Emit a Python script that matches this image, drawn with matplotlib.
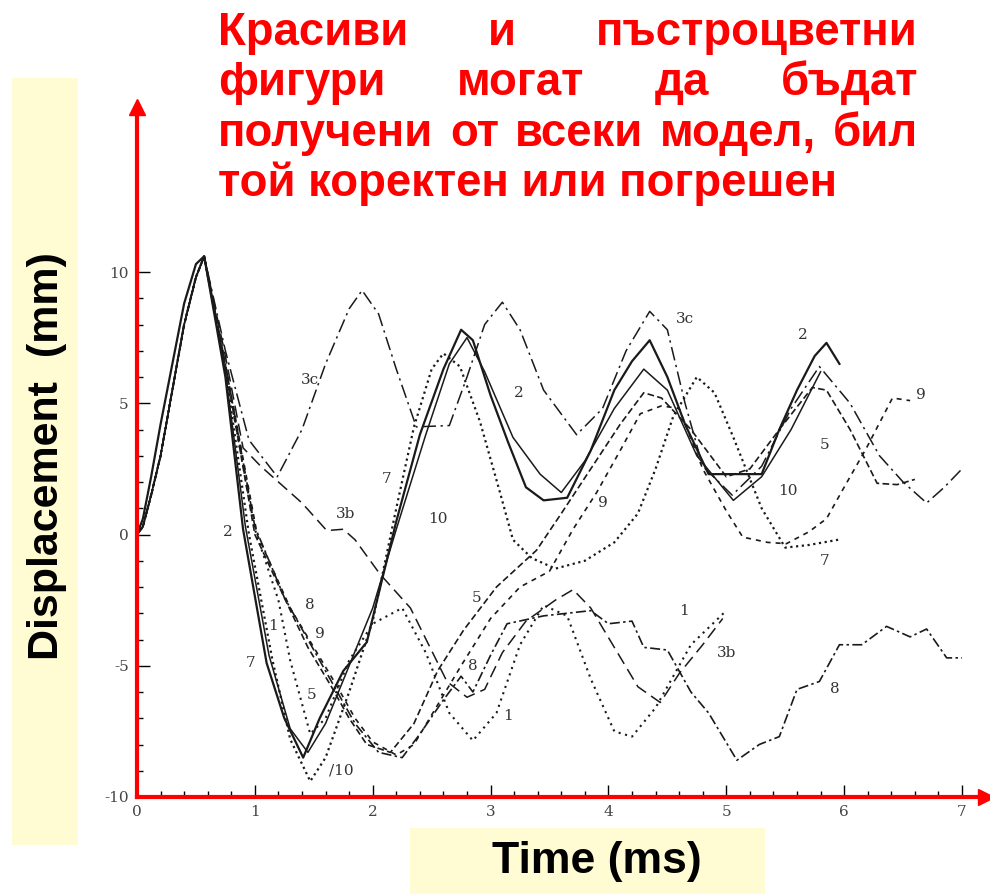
import matplotlib
matplotlib.use("Agg")
import matplotlib.pyplot as plt
from matplotlib.patches import Rectangle
from matplotlib.ticker import FixedLocator

W, H = 990, 894

# common rise of all traces up to the first peak
RISE_T = [0.0, 0.05, 0.12, 0.2, 0.3, 0.4, 0.5, 0.57]
RISE_D = [0.0, 0.3, 1.5, 3.0, 5.5, 8.0, 9.8, 10.6]
RISE_D_ALT = [0.0, 0.6, 2.2, 4.2, 6.5, 8.8, 10.3, 10.6]

# trace 1 (dotted)
t1 = [0.75, 1.0, 1.2, 1.3, 1.47, 1.6, 1.8, 2.0, 2.25, 2.45, 2.65, 2.85, 3.05, 3.25, 3.45,
      3.65, 3.85, 4.05, 4.2, 4.4, 4.7, 5.0]
d1 = [6.3, 0.2, -2.5, -4.8, -7.6, -7.0, -4.8, -3.4, -2.8, -4.5, -6.8, -7.85, -6.8, -4.2, -2.7,
      -3.1, -5.5, -7.5, -7.7, -6.6, -4.2, -2.9]

# trace 2 (solid, stepped)
t2 = [0.75, 0.9, 1.1, 1.25, 1.41, 1.55, 1.75, 1.95, 2.2, 2.4, 2.6, 2.75, 2.85, 3.0, 3.15, 3.3,
      3.45, 3.65, 3.85, 4.05, 4.2, 4.35, 4.5, 4.65, 4.85, 5.3, 5.45, 5.6, 5.75, 5.85, 5.96]
d2 = [6.0, 0.2, -4.9, -7.0, -8.5, -7.0, -5.2, -4.1, 0.5, 3.8, 6.3, 7.8, 7.4, 5.3, 3.5, 1.8,
      1.3, 1.4, 3.2, 5.5, 6.6, 7.4, 6.0, 4.2, 2.3, 2.3, 4.0, 5.5, 6.8, 7.3, 6.5]

# trace 10 (solid)
t10 = [0.75, 0.92, 1.12, 1.3, 1.45, 1.6, 1.8, 2.0, 2.2, 2.45, 2.65, 2.8, 2.95, 3.19, 3.42,
       3.6, 3.8, 4.05, 4.3, 4.5, 4.75, 5.06, 5.3, 5.55, 5.8]
d10 = [6.2, 0.3, -4.6, -7.4, -8.3, -7.2, -5.0, -2.8, 0.2, 3.8, 6.5, 7.5, 6.2, 3.7, 2.3,
       1.6, 2.8, 4.8, 6.3, 5.5, 3.0, 1.3, 2.2, 4.0, 6.2]

# trace 7 (dotted)
t7 = [0.75, 0.95, 1.15, 1.3, 1.47, 1.6, 1.8, 2.0, 2.2, 2.35, 2.5, 2.6, 2.74, 2.91, 3.08,
      3.19, 3.35, 3.55, 3.8, 4.05, 4.25, 4.4, 4.55, 4.75, 4.9, 5.06, 5.3, 5.5, 5.7, 5.95]
d7 = [6.3, 0.0, -4.8, -7.8, -9.4, -8.5, -6.0, -3.3, 1.0, 4.1, 6.3, 6.9, 6.4, 4.3, 1.6,
      -0.2, -0.9, -1.3, -1.0, -0.3, 0.8, 2.5, 4.5, 6.0, 5.4, 3.7, 1.0, -0.5, -0.4, -0.2]

# trace 5 (dashed)
t5 = [0.75, 1.0, 1.27, 1.45, 1.65, 1.8, 1.95, 2.15, 2.35, 2.55, 2.77, 3.05, 3.39, 3.6, 3.85,
      4.1, 4.3, 4.45, 4.7, 5.0, 5.2, 5.45, 5.73, 5.85, 6.05, 6.28, 6.45, 6.6]
d5 = [6.4, 0.0, -2.6, -4.3, -5.8, -7.0, -8.0, -8.3, -7.2, -5.2, -3.65, -2.0, -0.6, 0.8, 2.5,
      4.2, 5.4, 5.2, 4.0, 2.2, 2.5, 4.0, 5.6, 5.5, 4.0, 1.95, 1.9, 2.1]

# trace 8 (dash-dot)
t8 = [0.75, 1.0, 1.25, 1.45, 1.65, 1.85, 2.05, 2.25, 2.4, 2.6, 2.75, 2.85, 3.0, 3.14, 3.45,
      3.65, 3.85, 4.0, 4.2, 4.3, 4.5, 4.6, 4.7, 4.85, 5.09, 5.28, 5.45, 5.6, 5.79, 5.96,
      6.15, 6.36, 6.56, 6.7, 6.87, 7.0]
d8 = [6.5, 0.3, -2.4, -4.0, -5.6, -7.2, -8.3, -8.5, -7.6, -6.3, -5.4, -6.0, -4.6, -3.4, -3.1,
      -3.0, -2.9, -3.4, -3.3, -4.3, -4.4, -5.2, -6.0, -6.8, -8.6, -8.0, -7.7, -5.9, -5.6, -4.2,
      -4.2, -3.5, -3.9, -3.6, -4.7, -4.7]

# trace 9 (short dashes)
t9 = [0.75, 1.02, 1.3, 1.5, 1.7, 1.85, 2.0, 2.2, 2.35, 2.55, 2.75, 3.0, 3.25, 3.5, 3.7,
      3.9, 4.1, 4.27, 4.45, 4.6, 4.8, 5.0, 5.14, 5.35, 5.51, 5.7, 5.85, 6.0, 6.19, 6.41, 6.56]
d9 = [6.5, 0.0, -2.8, -4.3, -5.8, -7.0, -7.9, -8.4, -8.0, -6.5, -5.0, -3.2, -2.0, -1.4, 0.2,
      1.6, 3.2, 4.6, 4.9, 4.8, 2.5, 0.9, -0.1, -0.3, -0.35, 0.1, 0.6, 1.8, 3.3, 5.2, 5.1]

# trace 3b (long dashes)
t3b = [0.75, 0.9, 1.05, 1.2, 1.4, 1.61, 1.75, 1.85, 2.06, 2.32, 2.63, 2.8, 2.95, 3.1, 3.3,
       3.55, 3.7, 3.85, 4.05, 4.25, 4.44, 4.6, 4.8, 4.97]
d3b = [6.8, 3.3, 2.6, 2.0, 1.2, 0.15, 0.2, -0.2, -1.5, -2.8, -5.6, -6.2, -5.9, -4.5, -3.3,
       -2.5, -2.1, -2.8, -4.3, -5.8, -6.4, -5.3, -4.2, -3.2]

# trace 3c (long dash-dot)
t3c = [0.75, 0.95, 1.19, 1.4, 1.6, 1.8, 1.91, 2.05, 2.2, 2.37, 2.65, 2.8, 2.95, 3.1, 3.25,
       3.45, 3.73, 3.95, 4.15, 4.35, 4.5, 4.65, 4.8, 5.05, 5.3, 5.55, 5.79, 6.05, 6.3, 6.5,
       6.7, 6.85, 7.0]
d3c = [7.0, 3.6, 2.2, 4.0, 6.5, 8.6, 9.3, 8.4, 6.3, 4.1, 4.15, 6.0, 8.0, 8.85, 7.8,
       5.5, 3.8, 4.8, 7.0, 8.5, 7.8, 5.0, 2.6, 1.5, 2.6, 4.8, 6.4, 5.0, 3.0, 2.0,
       1.2, 1.8, 2.5]

# curve labels
lab_text = ["3c", "3c", "3b", "3b", "2", "2", "2", "7", "7", "7", "10", "10", "/10",
            "1", "1", "1", "8", "8", "8", "9", "9", "9", "5", "5", "5"]
lab_t = [1.47, 4.65, 1.77, 5.0, 0.77, 3.24, 5.65, 0.96, 2.12, 5.83, 2.55, 5.52, 1.73,
         1.15, 3.15, 4.64, 1.47, 2.85, 5.92, 1.55, 3.95, 6.65, 1.48, 2.88, 5.83]
lab_d = [5.9, 8.2, 0.8, -4.5, 0.1, 5.4, 7.6, -4.9, 2.1, -1.0, 0.6, 1.65, -9.0,
         -3.5, -6.9, -2.9, -2.7, -5.0, -5.9, -3.8, 1.2, 5.3, -6.1, -2.4, 3.4]

title_lines = [["Красиви", "и", "пъстроцветни"],
               ["фигури", "могат", "да", "бъдат"],
               ["получени", "от", "всеки", "модел,", "бил"],
               ["той", "коректен", "или", "погрешен"]]

fig = plt.figure(figsize=(W / 100, H / 100), dpi=100)
fig.patch.set_facecolor("white")

# pale yellow label boxes
yellow = "#fffbd2"
fig.patches.append(Rectangle((12 / W, 1 - 845 / H), 66 / W, 767 / H, transform=fig.transFigure,
                             facecolor=yellow, edgecolor="none", zorder=0))
fig.patches.append(Rectangle((410 / W, 0), 355 / W, 66 / H, transform=fig.transFigure,
                             facecolor=yellow, edgecolor="none", zorder=0))

ppx = (962 - 137) / 7.0
ppy = (797 - 272) / 20.0
xmax, ymax = 7.2, 16.3
ax = fig.add_axes([137 / W, (H - 797) / H, xmax * ppx / W, (ymax + 10) * ppy / H])
ax.set_xlim(0, xmax)
ax.set_ylim(-10, ymax)
ax.patch.set_alpha(0)

ink = "#1a1a1a"


def trace(t, d, rise=RISE_D, **kw):
    ax.plot(RISE_T + t, rise + d, color=ink, solid_joinstyle="round", **kw)


trace(t1, d1, lw=1.5, ls=(0, (1, 2.2)))
trace(t2, d2, rise=RISE_D_ALT, lw=1.6, ls="-")
trace(t10, d10, lw=1.1, ls="-")
trace(t7, d7, lw=1.6, ls=(0, (1, 1.6)))
trace(t5, d5, lw=1.2, ls=(0, (4, 2)))
trace(t8, d8, lw=1.2, ls=(0, (6, 2, 1.5, 2)))
trace(t9, d9, lw=1.2, ls=(0, (3, 3)))
trace(t3b, d3b, lw=1.1, ls=(0, (8, 4)))
trace(t3c, d3c, lw=1.1, ls=(0, (9, 3, 1.5, 3)))

for s, x, y in zip(lab_text, lab_t, lab_d):
    ax.text(x, y, s, fontsize=11, family="DejaVu Serif", color="#333333",
            ha="center", va="center")

# red arrow axes
for side in ["top", "right"]:
    ax.spines[side].set_visible(False)
for side in ["left", "bottom"]:
    ax.spines[side].set_color("red")
    ax.spines[side].set_linewidth(3)
    ax.spines[side].set_zorder(5)
ax.plot(1, -10, ">", color="red", ms=11, transform=ax.get_yaxis_transform(), clip_on=False, zorder=6)
ax.plot(0, 1, "^", color="red", ms=11, transform=ax.get_xaxis_transform(), clip_on=False, zorder=6)

ax.xaxis.set_major_locator(FixedLocator([0, 1, 2, 3, 4, 5, 6, 7]))
ax.xaxis.set_minor_locator(FixedLocator([i * 0.2 for i in range(36) if i % 5]))
ax.yaxis.set_major_locator(FixedLocator([-10, -5, 0, 5, 10]))
ax.yaxis.set_minor_locator(FixedLocator([i for i in range(-9, 10) if i % 5]))
ax.set_yticklabels(["-10", "-5", "0", "5", "10"])
ax.tick_params(which="both", direction="in", color="black", width=1, labelsize=11,
               labelcolor="#444444", pad=6)
ax.tick_params(which="major", length=9)
ax.tick_params(which="minor", length=4)
for lab in ax.get_xticklabels() + ax.get_yticklabels():
    lab.set_family("DejaVu Serif")

fig.text(47 / W, 1 - 456 / H, "Displacement  (mm)", rotation=90, fontsize=31,
         fontweight="bold", family="Liberation Sans", ha="center", va="center")
fig.text(597 / W, 1 - 862 / H, "Time (ms)", fontsize=32, fontweight="bold",
         family="Liberation Sans", ha="center", va="center")

# justified red title
tfont = dict(fontweight="bold", family="Liberation Sans", color="#ff0000", va="center")
r = fig.canvas.get_renderer()
probe = fig.text(0, 0, " ".join(title_lines[3]), fontsize=26, **tfont)
size = 26 * 620 / probe.get_window_extent(r).width
probe.remove()
x0, x1 = 218, 918
ys = [33, 83, 134, 184]
for k, words in enumerate(title_lines):
    if k == 3:
        fig.text(x0 / W, 1 - ys[k] / H, " ".join(words), fontsize=size, ha="left", **tfont)
        continue
    txts = [fig.text(0, 1 - ys[k] / H, w, fontsize=size, ha="left", **tfont) for w in words]
    widths = [t.get_window_extent(r).width for t in txts]
    gap = (x1 - x0 - sum(widths)) / (len(words) - 1)
    x = x0
    for t, w in zip(txts, widths):
        t.set_x(x / W)
        x += w + gap

fig.savefig("out.png", dpi=100)
